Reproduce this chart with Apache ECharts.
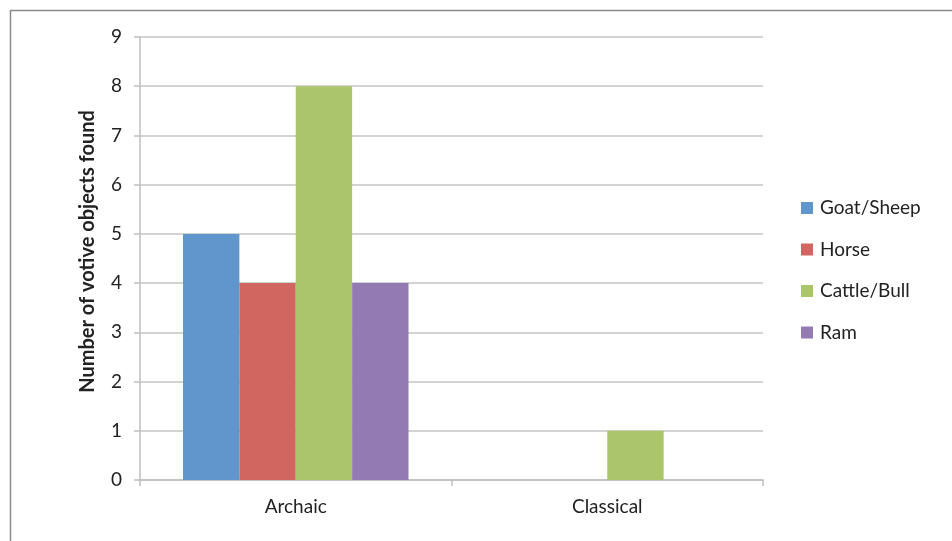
<!DOCTYPE html>
<html>
<head>
<meta charset="utf-8">
<script src="https://cdn.jsdelivr.net/npm/echarts@6/dist/echarts.min.js"></script>
<style>html,body{margin:0;padding:0;background:#fff;}#c{width:952px;height:541px;}</style>
</head>
<body>
<div id="c"></div>
<script>
const categories = ['Archaic', 'Classical'];
const seriesNames = ['Goat/Sheep', 'Horse', 'Cattle/Bull', 'Ram'];
const goatSheep = [5, 0];
const horse = [4, 0];
const cattleBull = [8, 1];
const ram = [4, 0];
const yTicks = [0, 1, 2, 3, 4, 5, 6, 7, 8, 9];
const colors = ['#6096cb', '#d0665f', '#abc56b', '#937ab2'];
const values = [goatSheep, horse, cattleBull, ram];

const font = 'Lato, "Open Sans", sans-serif';
const chart = echarts.init(document.getElementById('c'), null, {renderer: 'canvas'});
chart.setOption({
  animation: false,
  backgroundColor: '#fff',
  graphic: [{
    type: 'rect', left: 8, top: 8,
    shape: {width: 1000, height: 600},
    style: {fill: 'none', stroke: '#8a8a8a', lineWidth: 1.5},
    z: 100
  }],
  grid: {left: 140, top: 37, width: 623, height: 443, containLabel: false},
  legend: {
    orient: 'vertical', left: 801, top: 198, padding: 0,
    icon: 'rect', itemWidth: 12, itemHeight: 12, itemGap: 21.5,
    textStyle: {fontFamily: font, fontSize: 19, color: '#222', lineHeight: 20, padding: [0,0,0,2]},
    data: seriesNames
  },
  xAxis: {
    type: 'category', data: categories,
    axisLine: {lineStyle: {color: '#bfbfbf', width: 1.5}},
    axisTick: {show: true, length: 6, lineStyle: {color: '#bfbfbf', width: 1.5}},
    axisLabel: {fontFamily: font, fontSize: 19, color: '#222', margin: 17},
    splitLine: {show: false}
  },
  yAxis: {
    type: 'value', min: yTicks[0], max: yTicks[yTicks.length - 1], interval: 1,
    name: 'Number of votive objects found', nameLocation: 'middle', nameGap: 42,
    nameTextStyle: {fontFamily: font, fontSize: 20, fontWeight: 'bold', color: '#222', padding: [0, 0, 0, 14]},
    axisLine: {show: true, lineStyle: {color: '#bfbfbf', width: 1.5}},
    axisTick: {show: true, length: 6, lineStyle: {color: '#bfbfbf', width: 1.5}},
    axisLabel: {fontFamily: font, fontSize: 19, color: '#222', margin: 18},
    splitLine: {show: true, lineStyle: {color: '#c4c4c4', width: 1.5}}
  },
  series: seriesNames.map((n, i) => ({
    name: n, type: 'bar', data: values[i],
    barGap: '0%', barCategoryGap: '27.6%',
    itemStyle: {color: colors[i]}
  }))
});
</script>
</body>
</html>
